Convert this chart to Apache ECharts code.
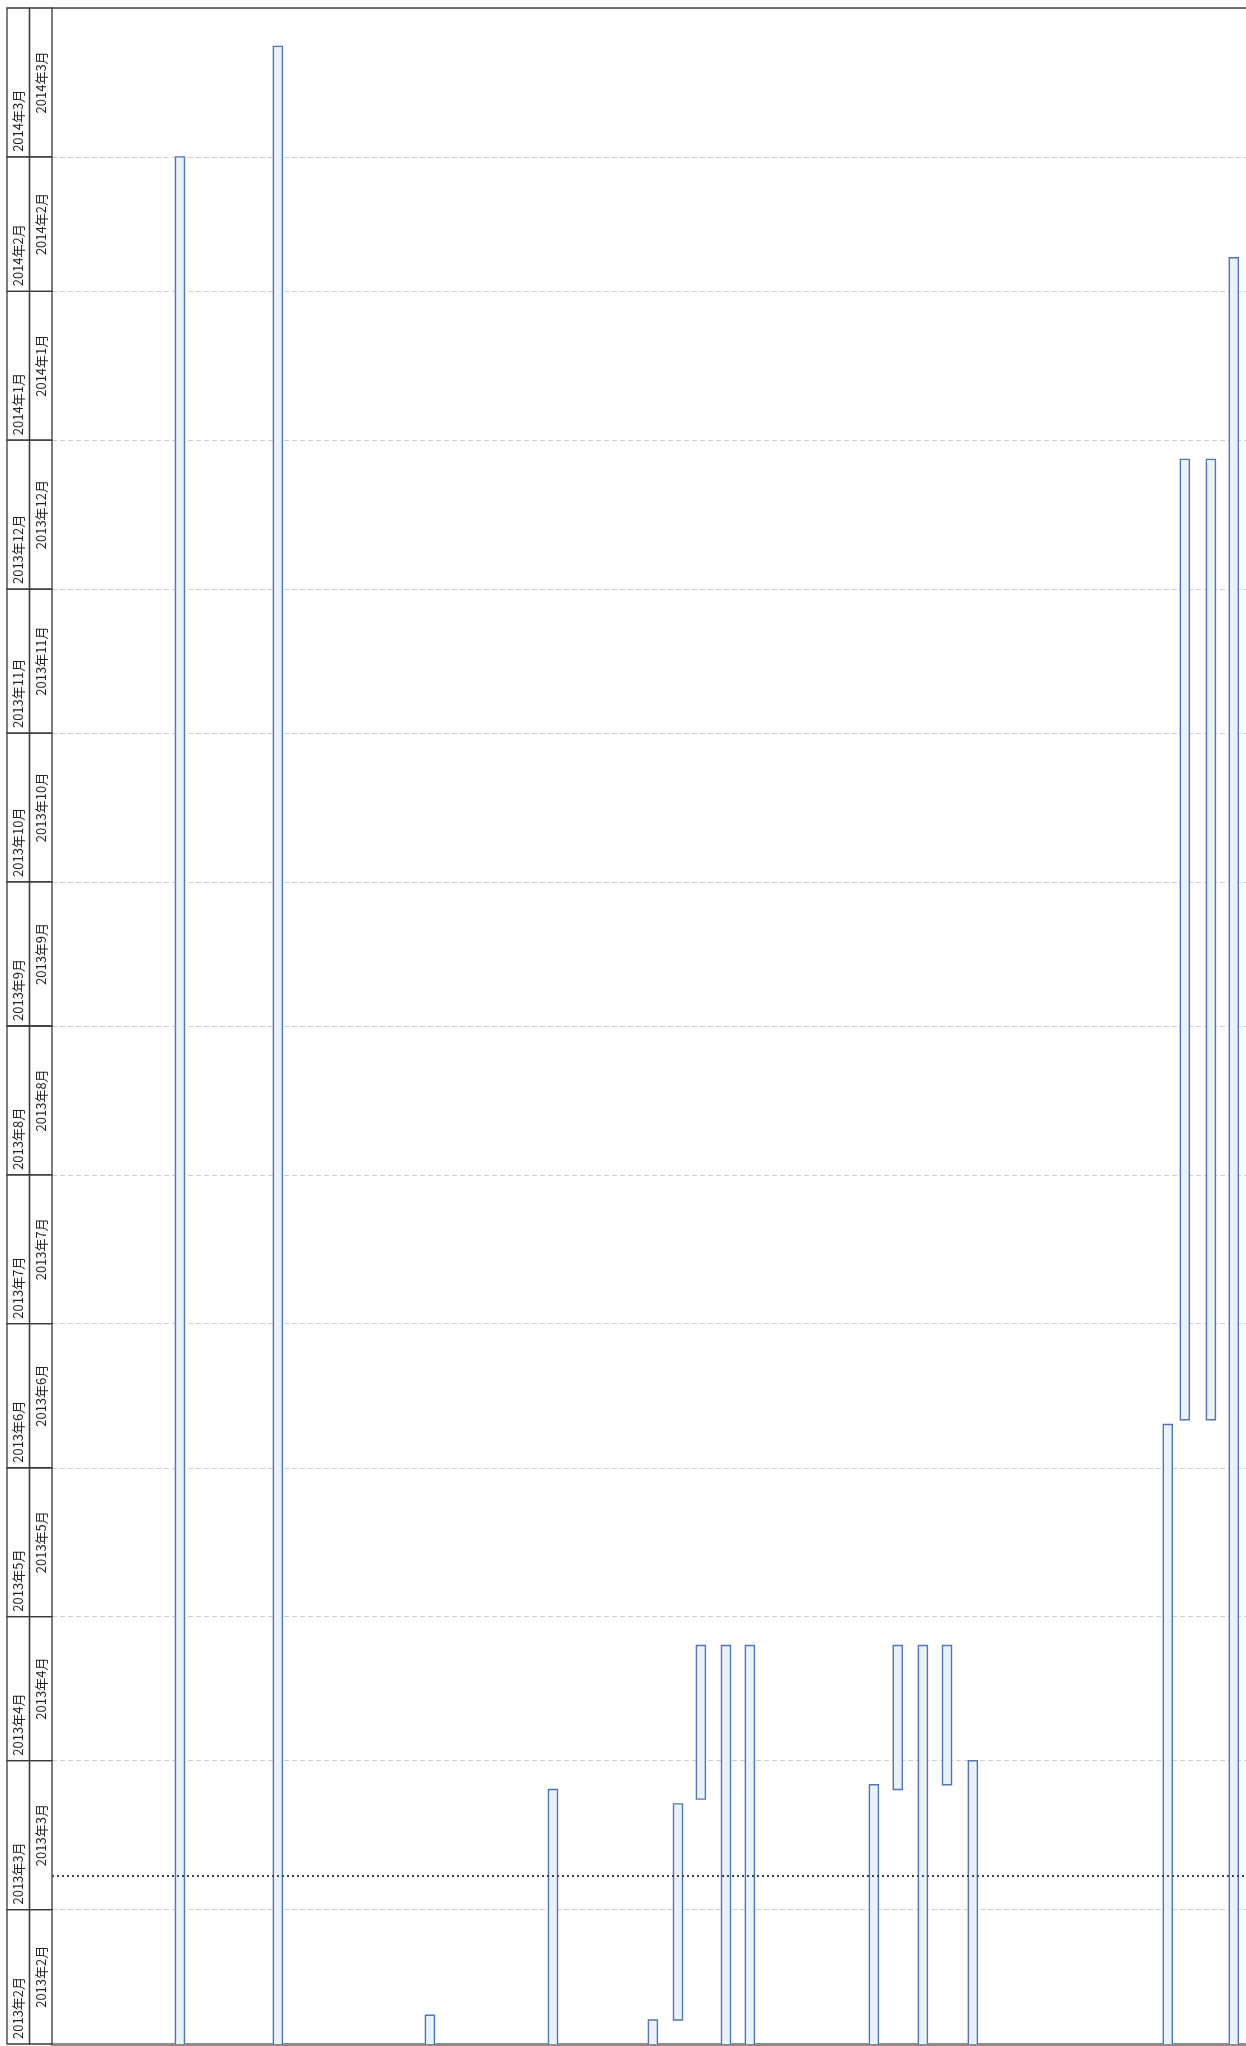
<!DOCTYPE html>
<html>
<head>
<meta charset="utf-8">
<script src="https://cdn.jsdelivr.net/npm/echarts@6/dist/echarts.min.js"></script>
<style>
html,body{margin:0;padding:0;background:#ffffff;}
#chart{width:1246px;height:2046px;}
</style>
</head>
<body>
<div id="chart"></div>
<script>
// ---------- data ----------
const axisStart = '2013-02-01';
const axisEnd = '2014-04-01';
const monthStarts = ['2013-02-01','2013-03-01','2013-04-01','2013-05-01','2013-06-01','2013-07-01','2013-08-01',
  '2013-09-01','2013-10-01','2013-11-01','2013-12-01','2014-01-01','2014-02-01','2014-03-01'];
const monthLabels = ['2013年2月','2013年3月','2013年4月','2013年5月','2013年6月','2013年7月','2013年8月',
  '2013年9月','2013年10月','2013年11月','2013年12月','2014年1月','2014年2月','2014年3月'];
const statusDate = '2013-03-08';
// task lane (row position across the chart), start and finish
const taskLanes  = [5.25, 9.27, 15.51, 20.56, 24.66, 25.69, 26.63, 27.66, 28.64,
                    33.73, 34.71, 35.74, 36.73, 37.79, 45.79, 46.49, 47.56, 48.50];
const taskStarts = ['2013-01-25','2013-01-25','2013-01-25','2013-01-25','2013-01-25','2013-02-06','2013-03-24','2013-01-25','2013-01-25',
                    '2013-01-25','2013-03-26','2013-01-25','2013-03-27','2013-01-25','2013-01-25','2013-06-11','2013-06-11','2013-01-25'];
const taskEnds   = ['2014-03-01','2014-03-24','2013-02-07','2013-03-26','2013-02-06','2013-03-23','2013-04-25','2013-04-25','2013-04-25',
                    '2013-03-27','2013-04-25','2013-04-25','2013-04-25','2013-04-01','2013-06-10','2013-12-28','2013-12-28','2014-02-08'];
const laneCount = 49;

// ---------- helpers ----------
function t(s){ const p = s.split('-').map(Number); return new Date(p[0], p[1]-1, p[2]).getTime(); }

const headerData = [];
const headerLabels = [];
for (let tier = 0; tier < 2; tier++) {
  for (let i = 0; i < monthStarts.length; i++) {
    const s = t(monthStarts[i]);
    const e = i + 1 < monthStarts.length ? t(monthStarts[i+1]) : t(axisEnd);
    headerData.push([tier, s, e]);
    headerLabels.push(monthLabels[i]);
  }
}
const taskData = taskLanes.map((l, i) => [l, t(taskStarts[i]), t(taskEnds[i])]);

const FONT = '13px "Noto Sans CJK JP", "Noto Sans", sans-serif';

function renderHeaderCell(params, api) {
  const tier = api.value(0);
  const p0 = api.coord([tier, api.value(1)]);
  const p1 = api.coord([tier + 1, api.value(2)]);
  const x0 = p0[0], x1 = p1[0], yb = p0[1], yt = p1[1];
  const cx = (x0 + x1) / 2;
  const label = headerLabels[params.dataIndex];
  const txt = tier === 0
    ? {type:'text', x: cx, y: yb - 5, rotation: Math.PI/2,
       style:{text: label, font: FONT, fill:'#222', align:'left', verticalAlign:'middle'}}
    : {type:'text', x: cx, y: (yb + yt) / 2, rotation: Math.PI/2,
       style:{text: label, font: FONT, fill:'#222', align:'center', verticalAlign:'middle'}};
  return {type:'group', children:[
    {type:'rect', shape:{x:x0, y:yt, width:x1-x0, height:yb-yt},
     style:{fill:'none', stroke:'#3a3a3a', lineWidth:1.3}},
    txt
  ]};
}

function renderTask(params, api) {
  const lane = api.value(0);
  const a = api.coord([lane, api.value(1)]);
  const b = api.coord([lane, api.value(2)]);
  const w = 9;
  return {type:'rect', shape:{x:a[0]-w/2, y:b[1], width:w, height:a[1]-b[1]},
          style:{fill:'#e9f3fb', stroke:'#5274bd', lineWidth:1.4}};
}

const chart = echarts.init(document.getElementById('chart'), null, {renderer:'canvas'});
chart.setOption({
  animation:false,
  backgroundColor:'#ffffff',
  grid:[
    {left:52, right:0, top:8, bottom:2},
    {left:7, width:45, top:8, bottom:2}
  ],
  xAxis:[
    {gridIndex:0, type:'value', min:0, max:laneCount, position:'bottom',
     axisLine:{show:true, onZero:false, lineStyle:{color:'#8c8c8c', width:3}},
     axisTick:{show:false}, axisLabel:{show:false}, splitLine:{show:false}},
    {gridIndex:0, type:'value', min:0, max:laneCount, position:'top',
     axisLine:{show:true, onZero:false, lineStyle:{color:'#4a4a4a', width:1.5}},
     axisTick:{show:false}, axisLabel:{show:false}, splitLine:{show:false}},
    {gridIndex:1, type:'value', min:0, max:2, show:false}
  ],
  yAxis:[
    {gridIndex:0, type:'time', min:t(axisStart), max:t(axisEnd),
     minInterval:28*86400000, maxInterval:31*86400000, splitNumber:14,
     axisLine:{show:false}, axisTick:{show:false}, axisLabel:{show:false},
     splitLine:{show:true, lineStyle:{color:'#cfcfcf', width:1, type:[5,3]}}},
    {gridIndex:1, type:'time', min:t(axisStart), max:t(axisEnd), show:false}
  ],
  series:[
    {type:'custom', name:'header', xAxisIndex:2, yAxisIndex:1, data:headerData,
     encode:{x:0, y:[1,2]}, renderItem:renderHeaderCell, silent:true},
    {type:'custom', name:'tasks', xAxisIndex:0, yAxisIndex:0, data:taskData, clip:true,
     encode:{x:0, y:[1,2]}, renderItem:renderTask, silent:true,
     markLine:{silent:true, symbol:['none','none'], label:{show:false},
       lineStyle:{type:[2,3], color:'#3c4262', width:2},
       data:[{yAxis:t(statusDate)}]}}
  ]
});
</script>
</body>
</html>
